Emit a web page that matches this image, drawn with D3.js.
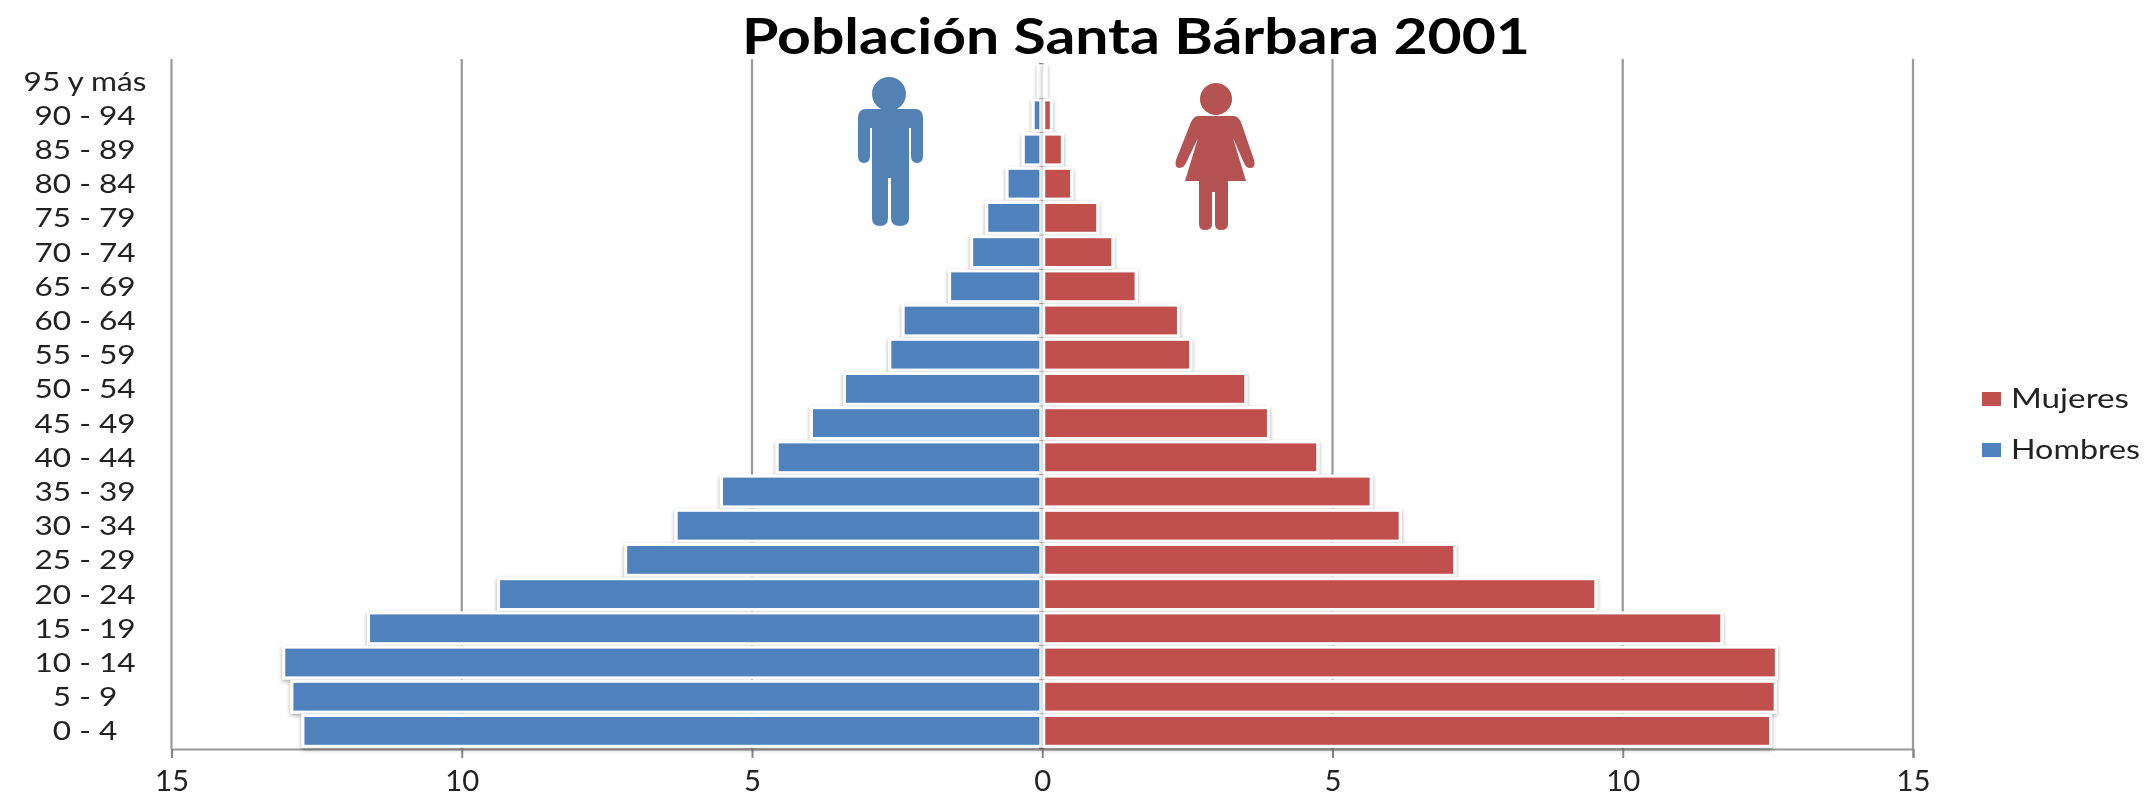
<!DOCTYPE html>
<html><head><meta charset="utf-8">
<script src="https://cdn.jsdelivr.net/npm/d3@7"></script>
<style>html,body{margin:0;background:#fff;overflow:hidden}svg{display:block}text{font-family:Lato,"Open Sans",sans-serif;fill:#222}</style>
</head><body><svg id="c" width="2146" height="797"></svg>
<script>
const categories=["95 y más","90 - 94","85 - 89","80 - 84","75 - 79","70 - 74","65 - 69","60 - 64","55 - 59","50 - 54","45 - 49","40 - 44","35 - 39","30 - 34","25 - 29","20 - 24","15 - 19","10 - 14","5 - 9","0 - 4"];
const hombres=[0.04,0.13,0.3,0.58,0.93,1.19,1.57,2.37,2.6,3.38,3.95,4.54,5.5,6.28,7.15,9.34,11.58,13.04,12.9,12.71];
const mujeres=[0.04,0.13,0.32,0.48,0.93,1.19,1.59,2.32,2.53,3.48,3.87,4.72,5.64,6.14,7.08,9.51,11.68,12.62,12.6,12.52];
const xTicks=[-15,-10,-5,0,5,10,15];
const legendItems=["Mujeres","Hombres"];
const colorH="#4f81bd",colorM="#c0504d",gridColor="#999999";

const svg=d3.select("#c");
const defs=svg.append("defs");
const sh=defs.append("filter").attr("id","sh").attr("filterUnits","userSpaceOnUse")
 .attr("x",0).attr("y",0).attr("width",2146).attr("height",797);
sh.append("feDropShadow").attr("dx",0).attr("dy",2).attr("stdDeviation",2).attr("flood-color","#000").attr("flood-opacity",.35);
const soft=defs.append("filter").attr("id","soft").attr("filterUnits","userSpaceOnUse")
 .attr("x",0).attr("y",0).attr("width",2146).attr("height",797);
soft.append("feGaussianBlur").attr("stdDeviation",0.6);
const root=svg.append("g").attr("filter","url(#soft)");

const x=d3.scaleLinear().domain([-15,15]).range([171.5,1913]);
const y=d3.scaleBand().domain(categories).range([64,748]).paddingInner(0.1).paddingOuter(0.05);

// gridlines
root.append("g").selectAll("line").data(xTicks.filter(d=>d!==0)).join("line")
 .attr("x1",d=>x(d)).attr("x2",d=>x(d)).attr("y1",59).attr("y2",749)
 .attr("stroke",gridColor).attr("stroke-width",2.2);

// zero axis with ticks
const yAxis=d3.axisLeft(d3.scalePoint().domain(d3.range(21)).range([64,748])).tickSize(3).tickFormat("");
const yg=root.append("g").attr("transform",`translate(${x(0)},0)`).call(yAxis);
yg.selectAll("path,line").attr("stroke","#555").attr("stroke-width",2);

// bottom axis
const xg=root.append("g").attr("transform","translate(0,749)")
 .call(d3.axisBottom(x).tickValues(xTicks).tickSize(9).tickPadding(12).tickFormat(d=>Math.abs(d)));
xg.select(".domain").attr("stroke",gridColor).attr("stroke-width",2.2);
xg.selectAll("line").attr("stroke","#888").attr("stroke-width",2);
xg.selectAll("text").attr("font-size",29).attr("fill","#222").style("font-family","Lato")
 .attr("textLength",d=>Math.abs(d)<10?17:34).attr("lengthAdjust","spacingAndGlyphs");

// bars
const bar=(vals,color,fn)=>root.append("g").selectAll("rect").data(categories).join("rect")
 .attr("y",d=>y(d)).attr("height",y.bandwidth())
 .attr("fill",color).attr("stroke","#fff").attr("stroke-width",3).attr("filter","url(#sh)")
 .each(function(d,i){d3.select(this).call(fn,vals[i]);});
bar(hombres,colorH,(s,v)=>s.attr("x",x(-v)-1.5).attr("width",x(0)-x(-v)));
bar(mujeres,colorM,(s,v)=>s.attr("x",x(0)+1.5).attr("width",x(v)-x(0)));

// category labels
root.append("g").selectAll("text").data(categories).join("text")
 .attr("transform",d=>`translate(85,${y(d)+y.bandwidth()/2}) scale(1.17,1)`)
 .attr("dy","0.35em").attr("text-anchor","middle")
 .attr("font-size",27).text(d=>d);

// title
root.append("text").attr("x",1136).attr("y",54).attr("text-anchor","middle")
 .attr("font-size",50).attr("font-weight",700).attr("textLength",788).attr("lengthAdjust","spacingAndGlyphs")
 .style("fill","#000").text("Población Santa Bárbara 2001");

// legend
const lg=root.append("g").selectAll("g").data(legendItems).join("g")
 .attr("transform",(d,i)=>`translate(1982,${392+i*51})`);
lg.append("rect").attr("width",19).attr("height",14).attr("fill",(d,i)=>i?colorH:colorM);
lg.append("text").attr("x",29).attr("y",7).attr("dy","0.35em").attr("font-size",26)
 .attr("textLength",(d,i)=>i?129:118).attr("lengthAdjust","spacingAndGlyphs").text(d=>d);

// pictograms (decorative)
const man=root.append("g").attr("fill","#4a7bb0").attr("opacity",.95);
man.append("circle").attr("cx",889).attr("cy",94).attr("r",17);
man.append("path").attr("d","M866 109H915Q923 109 923 118V156Q923 163 917 163Q911 163 911 156V128H909V218Q909 226 900 226Q891 226 891 218V178H888V218Q888 226 880 226Q872 226 872 218V128H870V156Q870 163 864 163Q858 163 858 156V118Q858 109 866 109Z");
const woman=root.append("g").attr("fill","#b24a48").attr("opacity",.95);
woman.append("circle").attr("cx",1216).attr("cy",99).attr("r",16);
woman.append("path").attr("d","M1198 116H1234Q1238 116 1241 122L1254 160Q1256 168 1250 168Q1246 168 1244 163L1233 138L1246 181H1228V224Q1228 230 1221 230Q1215 230 1215 224V192H1212V224Q1212 230 1205 230Q1199 230 1199 224V181H1185L1198 138L1186 163Q1184 168 1180 168Q1174 168 1176 160L1191 122Q1194 116 1198 116Z");
</script></body></html>
